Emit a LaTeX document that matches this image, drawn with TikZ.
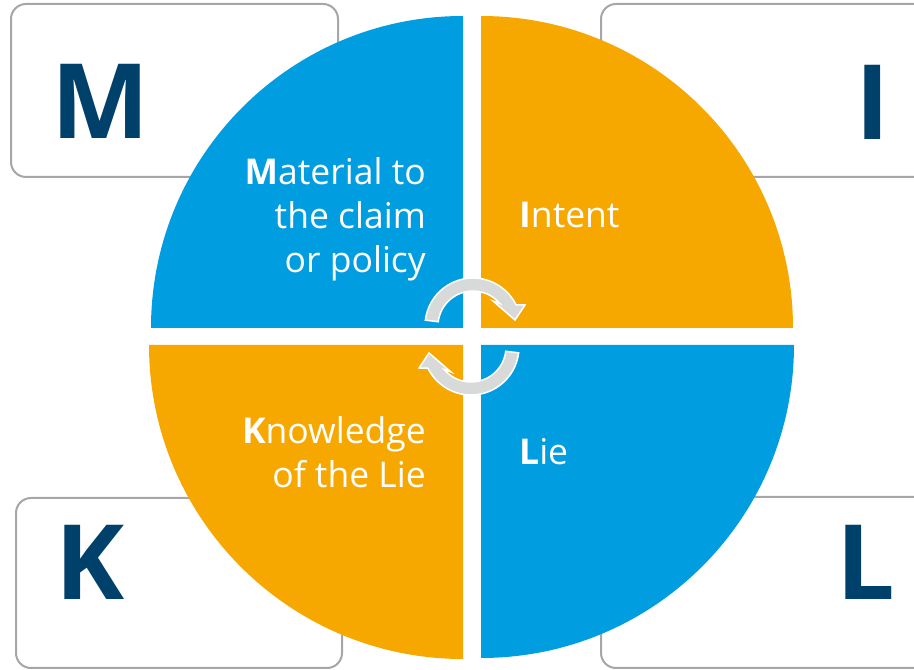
\documentclass[tikz,border=0pt]{standalone}
\usepackage{fontspec}
\setmainfont{Open Sans}
\definecolor{qblue}{RGB}{0,158,224}
\definecolor{qorange}{RGB}{246,168,0}
\definecolor{boxgray}{RGB}{166,166,166}
\definecolor{arrowgray}{RGB}{216,217,217}
\definecolor{letterblue}{RGB}{0,65,107}
\tikzset{
  cornerbox/.style={draw=boxgray, fill=white, line width=2pt, rounded corners=15pt},
  bigletter/.style={text=letterblue, font=\fontsize{104}{110}\selectfont\bfseries, inner sep=0pt, anchor=base},
  qtext/.style={text=white, font=\fontsize{35.5}{44}\selectfont, inner sep=0pt},
  cyclearrow/.style={fill=arrowgray, draw=white, line width=1.5pt, line join=miter}
}
\newcommand{\cyclearrowpath}{%
  \path[cyclearrow] (173:48pt) arc[start angle=173,end angle=26,radius=48pt]
    -- (52,21) -- (42,6) -- (20,25) -- (40:35pt)
    arc[start angle=40,end angle=173,radius=35pt] -- cycle;}
\begin{document}
\begin{tikzpicture}[x=1pt,y=1pt]
\useasboundingbox (0,0) rectangle (914,670);
\clip (0,0) rectangle (914,670);
% corner boxes
\draw[cornerbox] (11,493) rectangle (338,666);
\draw[cornerbox] (601,493) rectangle (960,666);
\draw[cornerbox] (16,2) rectangle (342,172);
\draw[cornerbox] (601,2) rectangle (960,173);
% letters
\node[bigletter] (letM) at (101,531) {M};
\node[bigletter] (letI) at (873,530) {I};
\node[bigletter] (letK) at (90,70) {K};
\node[bigletter] (letL) at (866,70) {L};
% quadrants
\fill[qblue] (463,342) -- ++(180:312pt) arc[start angle=180,end angle=90,radius=312pt] -- cycle;
\fill[qorange] (481,342) -- ++(0:312pt) arc[start angle=0,end angle=90,radius=312pt] -- cycle;
\fill[qorange] (463,325) -- ++(180:314pt) arc[start angle=180,end angle=270,radius=314pt] -- cycle;
\fill[qblue] (481,325) -- ++(270:313pt) arc[start angle=270,end angle=360,radius=313pt] -- cycle;
% texts
\node[qtext, anchor=base east] (m1) at (426,485) {\textbf{M}aterial to};
\node[qtext, anchor=base east] (m2) at (426,441) {the claim};
\node[qtext, anchor=base east] (m3) at (426,397) {or policy};
\node[qtext, anchor=base west] (i1) at (519,442) {\textbf{I}ntent};
\node[qtext, anchor=base east] (k1) at (426,226) {\textbf{K}nowledge};
\node[qtext, anchor=base east] (k2) at (426,182) {of the Lie};
\node[qtext, anchor=base west] (l1) at (519,205) {\textbf{L}ie};
% cycle arrows
\begin{scope}[shift={(473,344)}]
\cyclearrowpath
\end{scope}
\begin{scope}[shift={(471,323)}, rotate=180]
\cyclearrowpath
\end{scope}
\end{tikzpicture}
\end{document}
